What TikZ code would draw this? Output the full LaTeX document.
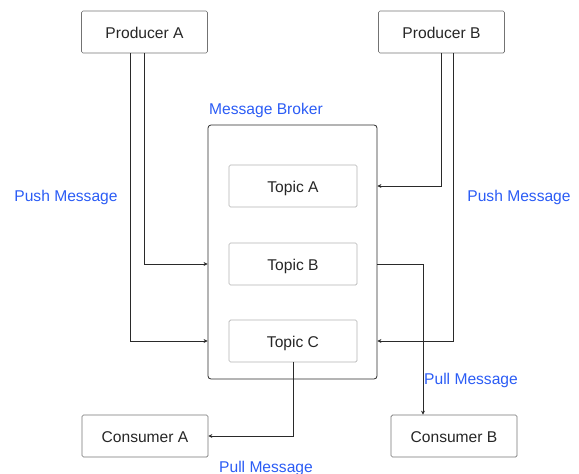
\documentclass[tikz,border=0pt]{standalone}
\usepackage{fontspec}
\setmainfont{Liberation Sans}
\usetikzlibrary{arrows.meta}
\definecolor{blu}{HTML}{2B5CF5}
\definecolor{ln}{HTML}{2A2A2A}
\begin{document}
\begin{tikzpicture}[x=1pt,y=-1pt,
  every node/.style={font=\fontsize{15.6}{18}\selectfont, text=black!85},
  box/.style={draw=black!55, line width=0.7pt, rounded corners=1.5pt, minimum width=126pt, minimum height=42pt, inner sep=0pt, text height=13pt, text depth=0pt},
  topic/.style={box, draw=black!30, minimum width=128pt},
  brokerbox/.style={draw=ln, line width=0.8pt, rounded corners=3pt, minimum width=169pt, minimum height=254pt, inner sep=0pt},
  lbl/.style={text=blu},
  arr/.style={draw=ln, line width=0.7pt, -{Stealth[length=4pt,width=4pt]}}]
\useasboundingbox (0,0) rectangle (579,474);
\node[box] (pa) at (144.5,32) {Producer A};
\node[box] (pb) at (441.5,32) {Producer B};
\node[brokerbox] (br) at (292.5,252) {};
\node[topic] (ta) at (293,186) {Topic A};
\node[topic] (tb) at (293,264) {Topic B};
\node[topic] (tc) at (293,341) {Topic C};
\node[box] (ca) at (145,436) {Consumer A};
\node[box] (cb) at (454,436) {Consumer B};
\node[lbl] (lmb) at (266,110) {Message Broker};
\node[lbl] (lpl) at (66,197) {Push Message};
\node[lbl] (lpr) at (519,197) {Push Message};
\node[lbl] (lqr) at (471,380) {Pull Message};
\node[lbl] (lqb) at (266,468) {Pull Message};
\draw[arr] (pa.south) |- (br.west |- tb.center);
\draw[arr] ([xshift=-14pt]pa.south) |- (br.west |- tc.center);
\draw[arr] (pb.south) |- (br.east |- ta.center);
\draw[arr] ([xshift=11.5pt]pb.south) |- (br.east |- tc.center);
\draw[arr] (br.east |- tb.center) -| ([xshift=-31pt]cb.north);
\draw[arr] (tc.south) |- (ca.east);
\end{tikzpicture}
\end{document}
